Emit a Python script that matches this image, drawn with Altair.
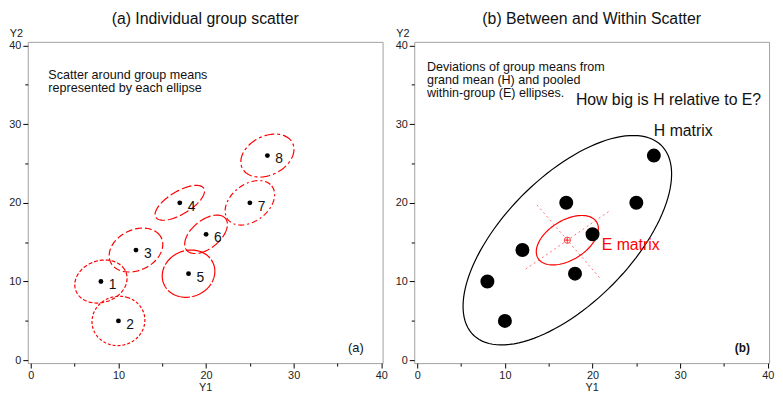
import numpy as np
import pandas as pd
import altair as alt

# ---- data ----
group_labels = ["1", "2", "3", "4", "5", "6", "7", "8"]
group_y1 = [8, 10, 12, 17, 18, 20, 25, 27]
group_y2 = [10, 5, 14, 20, 11, 16, 20, 26]

# per-group ellipse parameters (semi-axes in data units, angle in degrees)
ell_a = [3.1, 3.15, 3.3, 3.3, 3.15, 3.0, 3.3, 3.3]
ell_b = [2.6, 3.0, 2.5, 1.4, 2.85, 1.7, 2.25, 2.4]
ell_angle = [30, 70, 35, 35, 45, 45, 45, 35]
ell_dash = [[4, 2], [3, 2], [7, 3], [10, 3], [24, 2], [12, 3], [6, 3, 2, 3], [10, 3, 3, 3]]

grand_mean = [17.125, 15.25]
H_params = [16.15, 7.6, 50]   # a, b, angle
E_params = [4.07, 2.42, 37.7]
E_axis_half = 6.0

FONT = "Liberation Sans"


def ellipse(cx, cy, a, b, ang, n=120):
    t = np.linspace(0, 2 * np.pi, n + 1)
    th = np.radians(ang)
    x = cx + a * np.cos(th) * np.cos(t) - b * np.sin(th) * np.sin(t)
    y = cy + a * np.sin(th) * np.cos(t) + b * np.cos(th) * np.sin(t)
    return x, y, np.arange(n + 1)


rows = []
for i, g in enumerate(group_labels):
    x, y, o = ellipse(group_y1[i], group_y2[i], ell_a[i], ell_b[i], ell_angle[i])
    for xx, yy, oo in zip(x, y, o):
        rows.append({"x": xx, "y": yy, "o": oo, "g": g})
ell_df = pd.DataFrame(rows)

pts_df = pd.DataFrame({"x": group_y1, "y": group_y2, "lab": group_labels})

hx, hy, ho = ellipse(grand_mean[0], grand_mean[1], *H_params)
H_df = pd.DataFrame({"x": hx, "y": hy, "o": ho})
ex, ey, eo = ellipse(grand_mean[0], grand_mean[1], *E_params)
E_df = pd.DataFrame({"x": ex, "y": ey, "o": eo})

ax_rows = []
for k, ang in enumerate([E_params[2], E_params[2] + 90]):
    th = np.radians(ang)
    for s in (-1, 1):
        ax_rows.append({"x": grand_mean[0] + s * E_axis_half * np.cos(th),
                        "y": grand_mean[1] + s * E_axis_half * np.sin(th),
                        "g": str(k), "o": s})
axes_df = pd.DataFrame(ax_rows)
center_df = pd.DataFrame({"x": [grand_mean[0]], "y": [grand_mean[1]]})

notes_a = pd.DataFrame({"x": [2.0, 2.0], "y": [36.2, 34.6],
                        "t": ["Scatter around group means", "represented by each ellipse"]})
notes_b = pd.DataFrame({"x": [1.1, 1.1, 1.1], "y": [37.2, 35.6, 34.0],
                        "t": ["Deviations of group means from", "grand mean (H) and pooled",
                              "within-group (E) ellipses."]})

# ---- scales / axes ----
tick_vals = list(range(0, 41, 5))
tick_size = {"condition": {"test": "datum.value % 10 !== 0", "value": 3}, "value": 5}
label_expr = "datum.value % 10 === 0 ? datum.label : ''"

x_axis = alt.Axis(values=tick_vals, labelExpr=label_expr, title="Y1", grid=False, domain=False,
                  tickColor="#000", tickSize=tick_size, labelFontSize=11, labelColor="#222",
                  labelPadding=2, labelFlush=False, titleFontSize=11, titleFontWeight="normal",
                  titleColor="#222", titlePadding=1, labelFont=FONT, titleFont=FONT)
y_axis = alt.Axis(values=tick_vals, labelExpr=label_expr, title="Y2", grid=False, domain=False,
                  tickColor="#000", tickSize=tick_size, labelFontSize=11, labelColor="#222",
                  labelPadding=2, labelFlush=False, titleFontSize=11, titleFontWeight="normal",
                  titleColor="#222", titleAngle=0, titleX=-12, titleY=-5, titleAlign="center",
                  titleBaseline="alphabetic", labelFont=FONT, titleFont=FONT)
xs = alt.Scale(domain=[-0.35, 40.15], nice=False, zero=False)
ys = alt.Scale(domain=[-0.36, 40.44], nice=False, zero=False)


def X():
    return alt.X("x:Q", scale=xs, axis=x_axis)


def Y():
    return alt.Y("y:Q", scale=ys, axis=y_axis)


W, Hh = 359, 325

# ---- panel (a) ----
a_ell = alt.Chart(ell_df).mark_line(color="red", strokeWidth=1.2).encode(
    x=X(), y=Y(), order="o:Q", detail="g:N",
    strokeDash=alt.StrokeDash("g:N", scale=alt.Scale(domain=group_labels, range=ell_dash), legend=None))
a_pts = alt.Chart(pts_df).mark_circle(color="black", size=24, opacity=1).encode(x=X(), y=Y())
a_lab = alt.Chart(pts_df).mark_text(align="left", baseline="middle", dx=8, dy=4, fontSize=14,
                                    font=FONT, color="#111").encode(x=X(), y=Y(), text="lab:N")
a_notes = alt.Chart(notes_a).mark_text(align="left", baseline="middle", fontSize=12.7, font=FONT,
                                       color="#111").encode(x=X(), y=Y(), text="t:N")
a_tag = alt.Chart(pd.DataFrame({"x": [37.1], "y": [1.56], "t": ["(a)"]})).mark_text(
    align="center", baseline="middle", fontSize=13, font=FONT, color="#111").encode(x=X(), y=Y(), text="t:N")

panel_a = alt.layer(a_ell, a_pts, a_lab, a_notes, a_tag).properties(
    width=W, height=Hh,
    title=alt.TitleParams("(a) Individual group scatter", fontSize=16, fontWeight="normal",
                          font=FONT, color="#111", anchor="middle", offset=1))

# ---- panel (b) ----
b_H = alt.Chart(H_df).mark_line(color="black", strokeWidth=1.2).encode(x=X(), y=Y(), order="o:Q")
b_E = alt.Chart(E_df).mark_line(color="red", strokeWidth=1.2).encode(x=X(), y=Y(), order="o:Q")
b_axes = alt.Chart(axes_df).mark_line(color="#ff7070", strokeWidth=1, strokeDash=[2, 3]).encode(
    x=X(), y=Y(), order="o:Q", detail="g:N")
b_pts = alt.Chart(pts_df).mark_circle(color="black", size=200, opacity=1).encode(x=X(), y=Y())
b_c1 = alt.Chart(center_df).mark_point(shape="circle", color="red", size=40, strokeWidth=1,
                                       filled=False).encode(x=X(), y=Y())
b_c2 = alt.Chart(center_df).mark_point(shape="M-1,0L1,0M0,-1L0,1", color="red", size=40,
                                       strokeWidth=1, filled=False).encode(x=X(), y=Y())
b_notes = alt.Chart(notes_b).mark_text(align="left", baseline="middle", fontSize=12.7, font=FONT,
                                       color="#111").encode(x=X(), y=Y(), text="t:N")
big_txt = pd.DataFrame({"x": [18.1, 27.0], "y": [33.0, 29.1],
                        "t": ["How big is H relative to E?", "H matrix"]})
b_big = alt.Chart(big_txt).mark_text(align="left", baseline="middle", fontSize=16, font=FONT,
                                     color="#111").encode(x=X(), y=Y(), text="t:N")
b_Elab = alt.Chart(pd.DataFrame({"x": [21.05], "y": [14.6], "t": ["E matrix"]})).mark_text(
    align="left", baseline="middle", fontSize=16, font=FONT, color="red").encode(x=X(), y=Y(), text="t:N")
b_tag = alt.Chart(pd.DataFrame({"x": [37.1], "y": [1.56], "t": ["(b)"]})).mark_text(
    align="center", baseline="middle", fontSize=12, font=FONT, fontWeight="bold",
    color="#111").encode(x=X(), y=Y(), text="t:N")

panel_b = alt.layer(b_H, b_axes, b_E, b_pts, b_c1, b_c2, b_notes, b_big, b_Elab, b_tag).properties(
    width=W, height=Hh,
    title=alt.TitleParams("(b) Between and Within Scatter", fontSize=16, fontWeight="normal",
                          font=FONT, color="#111", anchor="middle", offset=1))

chart = alt.hconcat(panel_a, panel_b, spacing=6).properties(
    padding={"left": 0, "top": 0, "right": 0, "bottom": 0}
).configure_view(stroke="#a0a0a0", strokeWidth=1)

chart.save("out.html", embed_options={"renderer": "svg", "actions": False})
